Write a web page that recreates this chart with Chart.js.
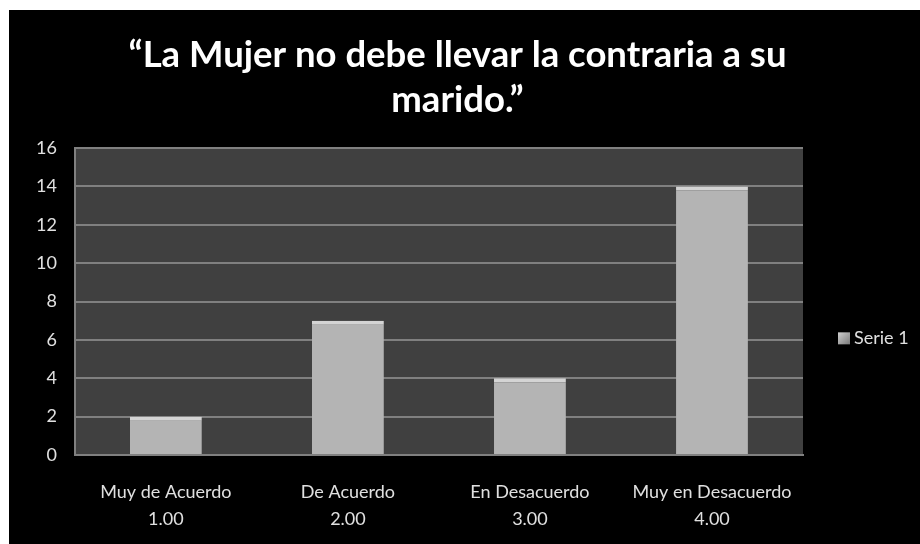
<!DOCTYPE html>
<html>
<head>
<meta charset="utf-8">
<script src="https://cdn.jsdelivr.net/npm/chart.js@4"></script>
<style>
  html, body { margin: 0; padding: 0; background: #ffffff; }
  #marco { position: absolute; left: 9px; top: 10px; width: 911px; height: 534px; background: #000000; }
</style>
</head>
<body>
<div id="marco"><canvas id="grafico" width="911" height="534"></canvas></div>
<script>
const categorias = [["Muy de Acuerdo", "1.00"], ["De Acuerdo", "2.00"], ["En Desacuerdo", "3.00"], ["Muy en Desacuerdo", "4.00"]];
const serie1 = [2, 7, 4, 14];
const tituloLineas = ["\u201cLa Mujer no debe llevar la contraria a su", "marido.\u201d"];
const nombreSerie = "Serie 1";

// fondo gris del area de trazado
const fondoArea = {
    id: "fondoArea",
    beforeDraw(chart) {
        const { ctx, chartArea: a } = chart;
        ctx.save();
        ctx.fillStyle = "#404040";
        ctx.fillRect(a.left, a.top, a.right - a.left, a.bottom - a.top);
        ctx.restore();
    }
};

// titulo centrado en todo el lienzo (no solo sobre el area de trazado)
const titulo = {
    id: "titulo",
    afterDraw(chart) {
        const ctx = chart.ctx;
        ctx.save();
        ctx.fillStyle = "#ffffff";
        ctx.font = "bold 36.5px Lato";
        ctx.textAlign = "center";
        ctx.textBaseline = "middle";
        tituloLineas.forEach((t, i) => ctx.fillText(t, chart.width / 2 - 7, 45 + i * 45));
        ctx.restore();
    }
};

// leyenda a la derecha, como en la hoja de calculo
const leyenda = {
    id: "leyenda",
    afterDraw(chart) {
        const { ctx, chartArea: a } = chart;
        const x = a.right + 35;
        const y = a.top + (a.bottom - a.top) * 0.62;
        ctx.save();
        const g = ctx.createLinearGradient(x, y - 6, x + 12, y + 6);
        g.addColorStop(0, "#d0d0d0");
        g.addColorStop(1, "#7a7a7a");
        ctx.fillStyle = g;
        ctx.fillRect(x, y - 6, 12, 12);
        ctx.fillStyle = "#e0e0e0";
        ctx.font = "18px Lato";
        ctx.textBaseline = "middle";
        ctx.fillText(nombreSerie, x + 16, y);
        ctx.restore();
    }
};

function rellenoBarra(context) {
    const el = context.element;
    const c = context.chart.ctx;
    if (!el || !el.width) return "#b4b4b4";
    const x0 = el.x - el.width / 2;
    const g = c.createLinearGradient(x0, 0, x0 + el.width, 0);
    g.addColorStop(0, "#8a8a8a");
    g.addColorStop(0.06, "#b0b0b0");
    g.addColorStop(0.94, "#b4b4b4");
    g.addColorStop(1, "#8a8a8a");
    return g;
}

new Chart(document.getElementById("grafico"), {
    type: "bar",
    data: {
        labels: categorias,
        datasets: [{
            label: nombreSerie,
            data: serie1,
            backgroundColor: rellenoBarra,
            borderColor: "#d4d4d4",
            borderWidth: { top: 4, left: 0, right: 0, bottom: 0 },
            barPercentage: 0.395,
            categoryPercentage: 1
        }]
    },
    options: {
        responsive: false,
        animation: false,
        layout: { padding: { left: 9, right: 117, top: 138, bottom: 0 } },
        plugins: {
            title: { display: false },
            legend: { display: false },
            tooltip: { enabled: false }
        },
        scales: {
            x: {
                grid: { display: false, drawTicks: false },
                border: { color: "#808080", width: 2 },
                ticks: { color: "#e0e0e0", font: { family: "Lato", size: 18, lineHeight: 1.5 }, padding: 24, maxRotation: 0 },
                afterFit(scale) { scale.height = 89; }
            },
            y: {
                min: 0,
                max: 16,
                ticks: { stepSize: 2, color: "#e0e0e0", font: { family: "Lato", size: 18 }, padding: 18 },
                grid: { color: "#808080", lineWidth: 2, drawTicks: false },
                border: { color: "#808080", width: 2 }
            }
        }
    },
    plugins: [fondoArea, titulo, leyenda]
});
</script>
</body>
</html>
